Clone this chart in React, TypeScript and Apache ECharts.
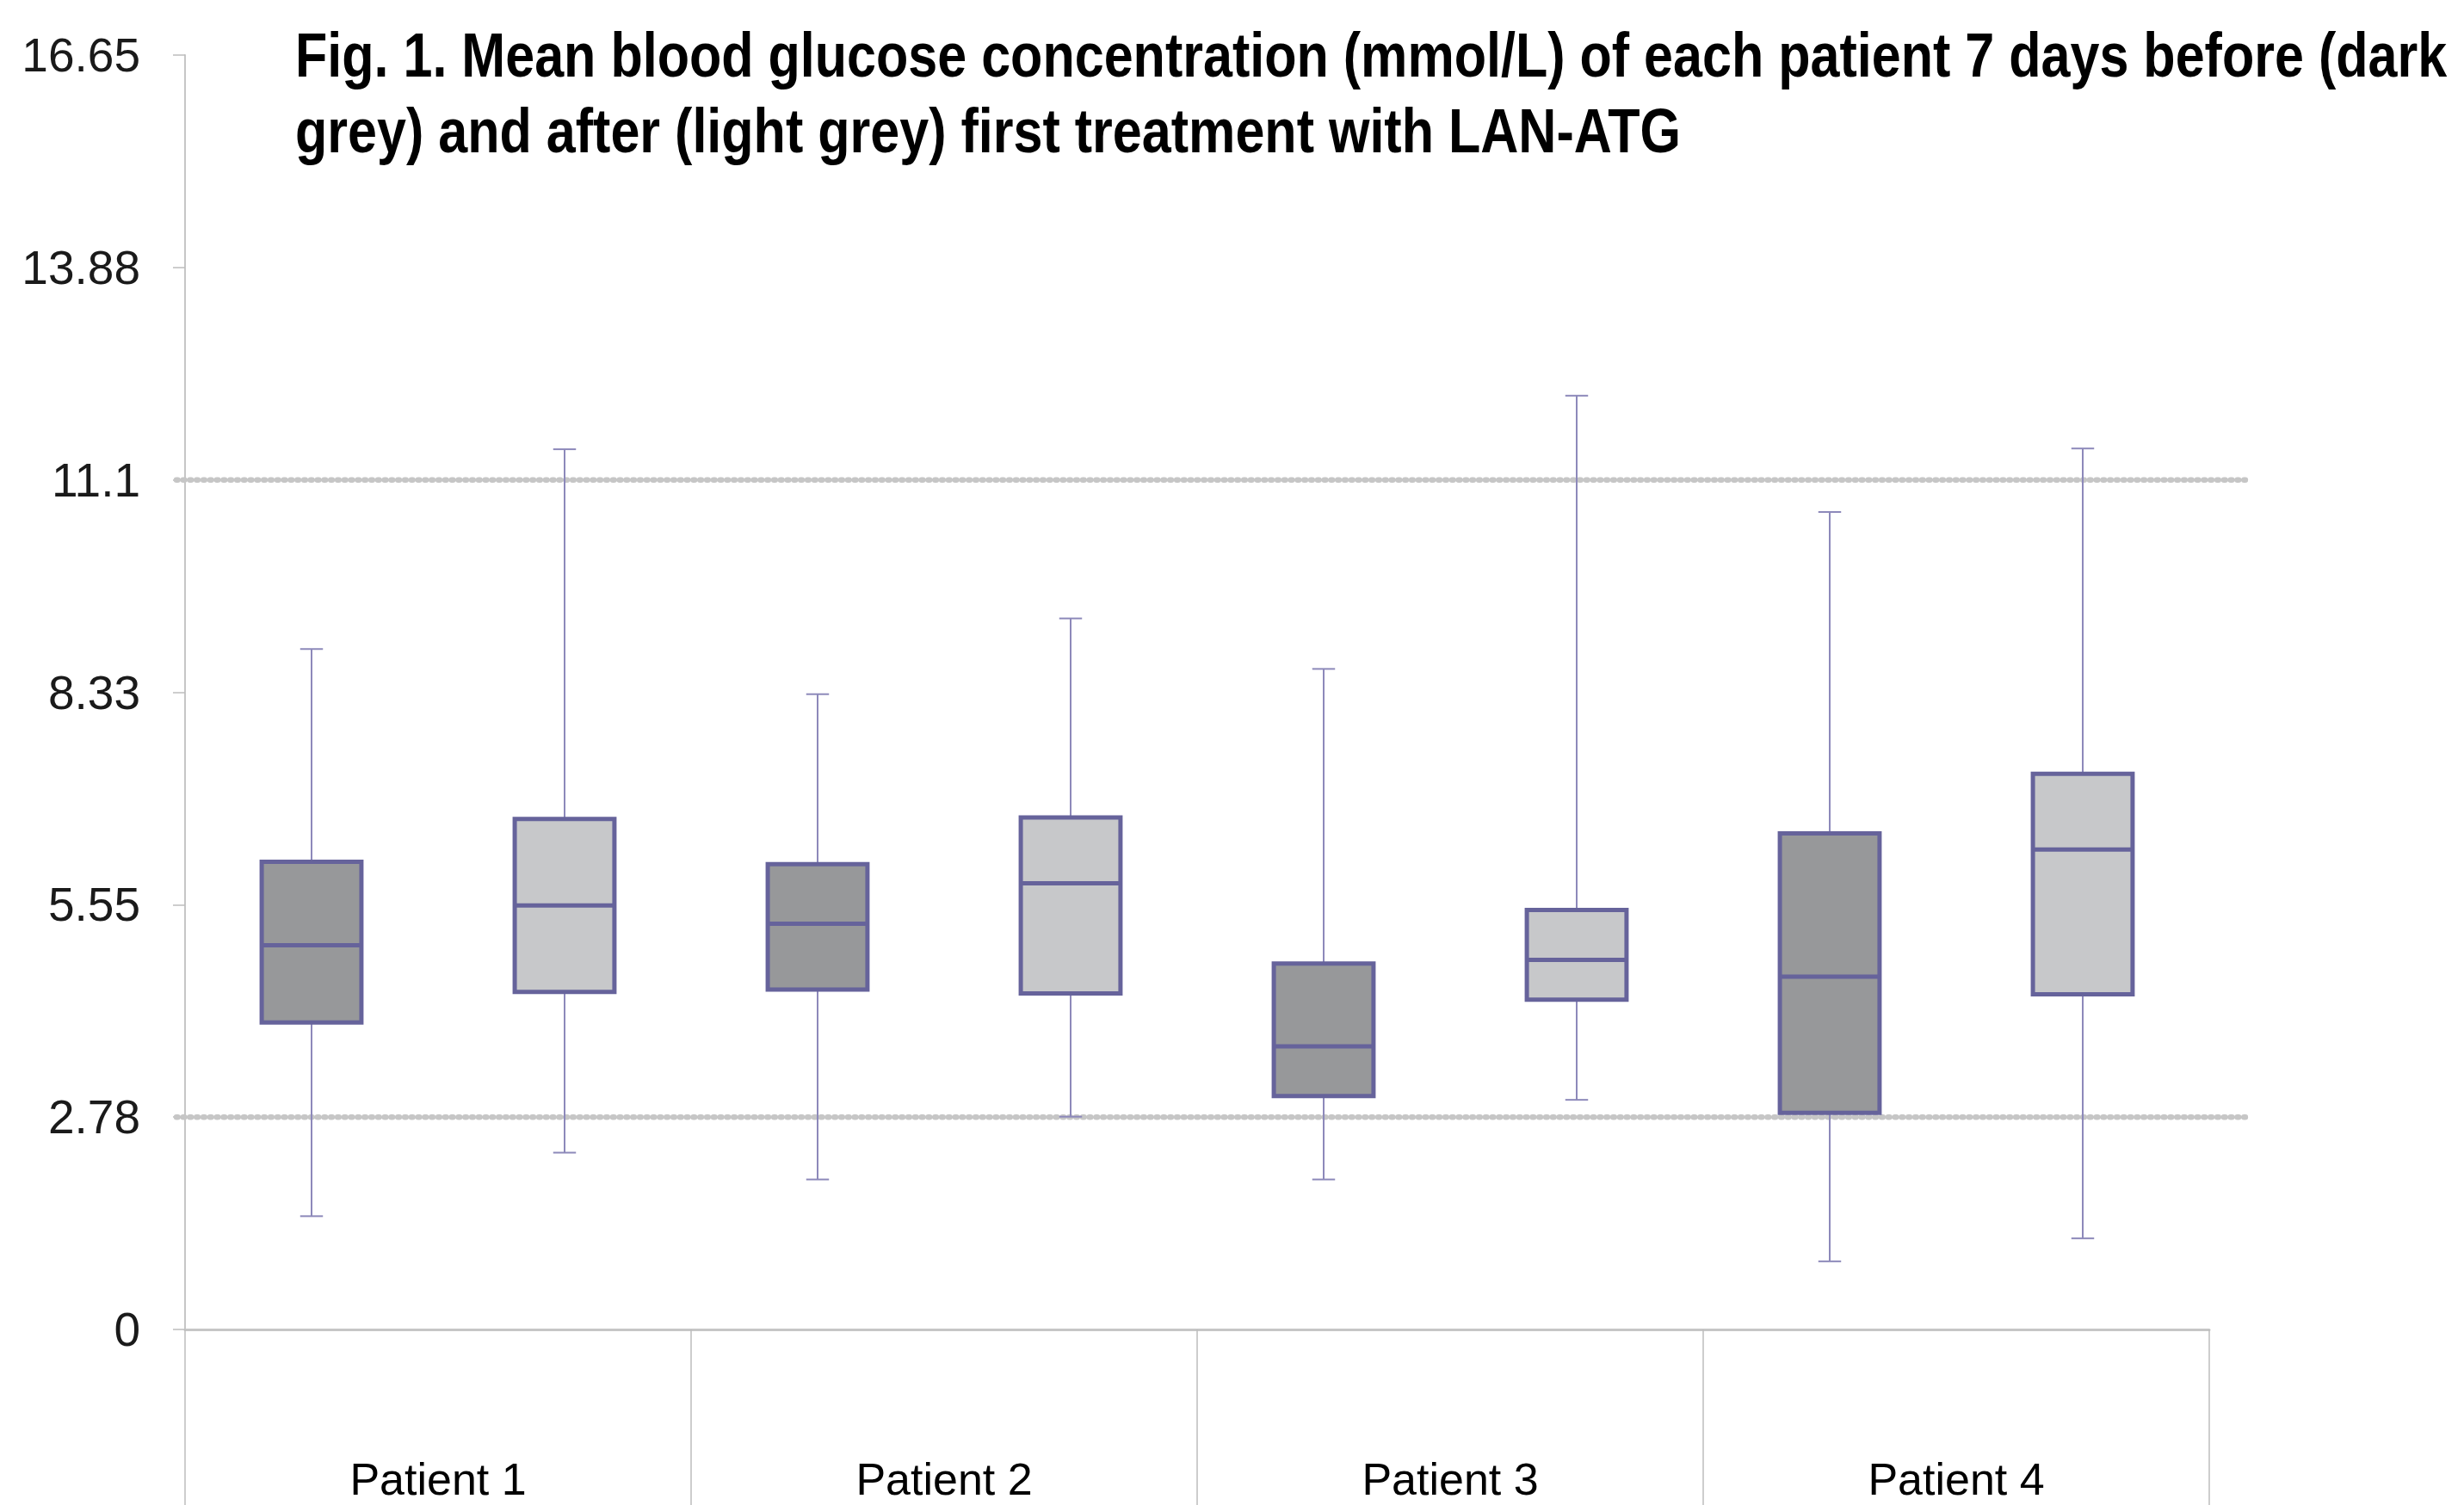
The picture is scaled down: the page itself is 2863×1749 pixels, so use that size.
import React, { useEffect, useRef } from "react";
import * as echarts from "echarts";

const patients = ["Patient 1", "Patient 2", "Patient 3", "Patient 4"];

// before treatment (dark grey): min, Q1, median, Q3, max
const beforeMin = [1.48, 1.96, 1.96, 0.89];
const beforeQ1 = [4.01, 4.44, 3.05, 2.83];
const beforeMedian = [5.02, 5.30, 3.70, 4.61];
const beforeQ3 = [6.11, 6.08, 4.78, 6.48];
const beforeMax = [8.89, 8.30, 8.63, 10.68];

// after treatment (light grey)
const afterMin = [2.31, 2.78, 3.00, 1.19];
const afterQ1 = [4.41, 4.39, 4.31, 4.38];
const afterMedian = [5.54, 5.83, 4.83, 6.27];
const afterQ3 = [6.67, 6.69, 5.48, 7.26];
const afterMax = [11.50, 9.29, 12.20, 11.51];

const yTickLabels = ["0", "2.78", "5.55", "8.33", "11.1", "13.88", "16.65"];
const yMax = 16.65;
const yInterval = 2.775;
const refLevels = [11.1, 2.775];

const titleLine1 =
  "Fig. 1. Mean blood glucose concentration (mmol/L) of each patient 7 days before (dark";
const titleLine2 = "grey) and after (light grey) first treatment with LAN-ATG";

const SANS = "'Liberation Sans', Arial, sans-serif";

const W = 2863;
const H = 1749;

function measure(text: string, font: string): number {
  const c = document.createElement("canvas");
  const ctx = c.getContext("2d");
  if (!ctx) return text.length * 36;
  ctx.font = font;
  return ctx.measureText(text).width;
}

function buildData(
  mins: number[],
  q1: number[],
  med: number[],
  q3: number[],
  max: number[]
) {
  return patients.map((_, i) => [i, mins[i], q1[i], med[i], q3[i], max[i]]);
}

function makeRenderer(offsetFrac: number, fill: string) {
  return (params: any, api: any) => {
    const xi = api.value(0);
    const vMin = api.value(1);
    const vQ1 = api.value(2);
    const vMed = api.value(3);
    const vQ3 = api.value(4);
    const vMax = api.value(5);
    const band = api.size([1, 0])[0];
    const cx = api.coord([xi, 0])[0] + offsetFrac * band;
    const y = (v: number) => api.coord([xi, v])[1];
    const bw = band * 0.197;
    const cw = band * 0.045;
    const whisker = { stroke: "#8d89ba", lineWidth: 2 };
    const border = "#66639b";
    return {
      type: "group",
      children: [
        { type: "line", shape: { x1: cx, y1: y(vMin), x2: cx, y2: y(vQ1) }, style: whisker },
        { type: "line", shape: { x1: cx, y1: y(vQ3), x2: cx, y2: y(vMax) }, style: whisker },
        { type: "line", shape: { x1: cx - cw / 2, y1: y(vMin), x2: cx + cw / 2, y2: y(vMin) }, style: whisker },
        { type: "line", shape: { x1: cx - cw / 2, y1: y(vMax), x2: cx + cw / 2, y2: y(vMax) }, style: whisker },
        {
          type: "rect",
          shape: { x: cx - bw / 2, y: y(vQ3), width: bw, height: y(vQ1) - y(vQ3) },
          style: { fill, stroke: border, lineWidth: 5 },
        },
        {
          type: "line",
          shape: { x1: cx - bw / 2, y1: y(vMed), x2: cx + bw / 2, y2: y(vMed) },
          style: { stroke: border, lineWidth: 5 },
        },
      ],
    };
  };
}

export default function App() {
  const ref = useRef<HTMLDivElement>(null);

  useEffect(() => {
    document.body.style.margin = "0";
    document.body.style.overflow = "hidden";
    if (!ref.current) return;
    const chart = echarts.init(ref.current, undefined, { renderer: "svg" });

    const gridTop = 64;
    const gridBottom = H - 1545;

    const titleFont = "bold 72px 'Liberation Sans', Arial, sans-serif";
    const sx1 = 2501 / measure(titleLine1, titleFont);
    const sx2 = 1611 / measure(titleLine2, titleFont);

    const refSeries: any[] = [];
    refLevels.forEach((lv) => {
      refSeries.push({
        type: "line",
        xAxisIndex: 1,
        yAxisIndex: 1,
        data: [
          [0, lv],
          [1, lv],
        ],
        showSymbol: false,
        silent: true,
        z: 1,
        lineStyle: { color: "#cdcdcd", width: 3 },
      });
      refSeries.push({
        type: "line",
        xAxisIndex: 1,
        yAxisIndex: 1,
        data: [
          [0, lv],
          [1, lv],
        ],
        showSymbol: false,
        silent: true,
        z: 1,
        lineStyle: { color: "#c6c6c6", width: 6.5, type: [1.5, 6.3], cap: "round" },
      });
    });

    chart.setOption({
      animation: false,
      backgroundColor: "#ffffff",
      grid: [
        { left: 215, right: W - 2567, top: gridTop, bottom: gridBottom },
        { left: 205, right: W - 2611, top: gridTop, bottom: gridBottom },
      ],
      xAxis: [
        {
          type: "category",
          gridIndex: 0,
          data: patients,
          boundaryGap: true,
          axisLine: { show: true, lineStyle: { color: "#c6c6c6", width: 3 } },
          axisTick: {
            show: true,
            length: 220,
            lineStyle: { color: "#bdbdbd", width: 1.5 },
          },
          axisLabel: {
            margin: 148,
            fontSize: 52,
            lineHeight: 52,
            fontFamily: SANS,
            color: "#000000",
          },
          splitLine: { show: false },
        },
        {
          type: "value",
          gridIndex: 1,
          min: 0,
          max: 1,
          show: false,
        },
      ],
      yAxis: [
        {
          type: "value",
          gridIndex: 0,
          min: 0,
          max: yMax,
          interval: yInterval,
          axisLine: { show: true, lineStyle: { color: "#c6c6c6", width: 2 } },
          axisTick: { show: true, length: 14, lineStyle: { color: "#bdbdbd", width: 1.5 } },
          splitLine: { show: false },
          axisLabel: {
            margin: 52,
            fontSize: 55,
            fontFamily: SANS,
            color: "#1a1a1a",
            formatter: (_v: number, idx: number) => yTickLabels[idx] ?? "",
          },
        },
        {
          type: "value",
          gridIndex: 1,
          min: 0,
          max: yMax,
          show: false,
        },
      ],
      graphic: [
        {
          type: "text",
          x: 343,
          y: 64,
          scaleX: sx1,
          style: {
            text: titleLine1,
            font: titleFont,
            verticalAlign: "middle",
            align: "left",
            fill: "#000000",
          },
        },
        {
          type: "text",
          x: 343,
          y: 152,
          scaleX: sx2,
          style: {
            text: titleLine2,
            font: titleFont,
            verticalAlign: "middle",
            align: "left",
            fill: "#000000",
          },
        },
      ],
      series: [
        ...refSeries,
        {
          type: "custom",
          name: "before",
          xAxisIndex: 0,
          yAxisIndex: 0,
          z: 3,
          encode: { x: 0, y: [1, 2, 3, 4, 5] },
          data: buildData(beforeMin, beforeQ1, beforeMedian, beforeQ3, beforeMax),
          renderItem: makeRenderer(-0.25, "#97989a"),
        },
        {
          type: "custom",
          name: "after",
          xAxisIndex: 0,
          yAxisIndex: 0,
          z: 3,
          encode: { x: 0, y: [1, 2, 3, 4, 5] },
          data: buildData(afterMin, afterQ1, afterMedian, afterQ3, afterMax),
          renderItem: makeRenderer(0.25, "#c7c8ca"),
        },
      ],
    });

    return () => {
      chart.dispose();
    };
  }, []);

  return (
    <div
      ref={ref}
      style={{ position: "absolute", left: 0, top: 0, width: W, height: H }}
    />
  );
}
